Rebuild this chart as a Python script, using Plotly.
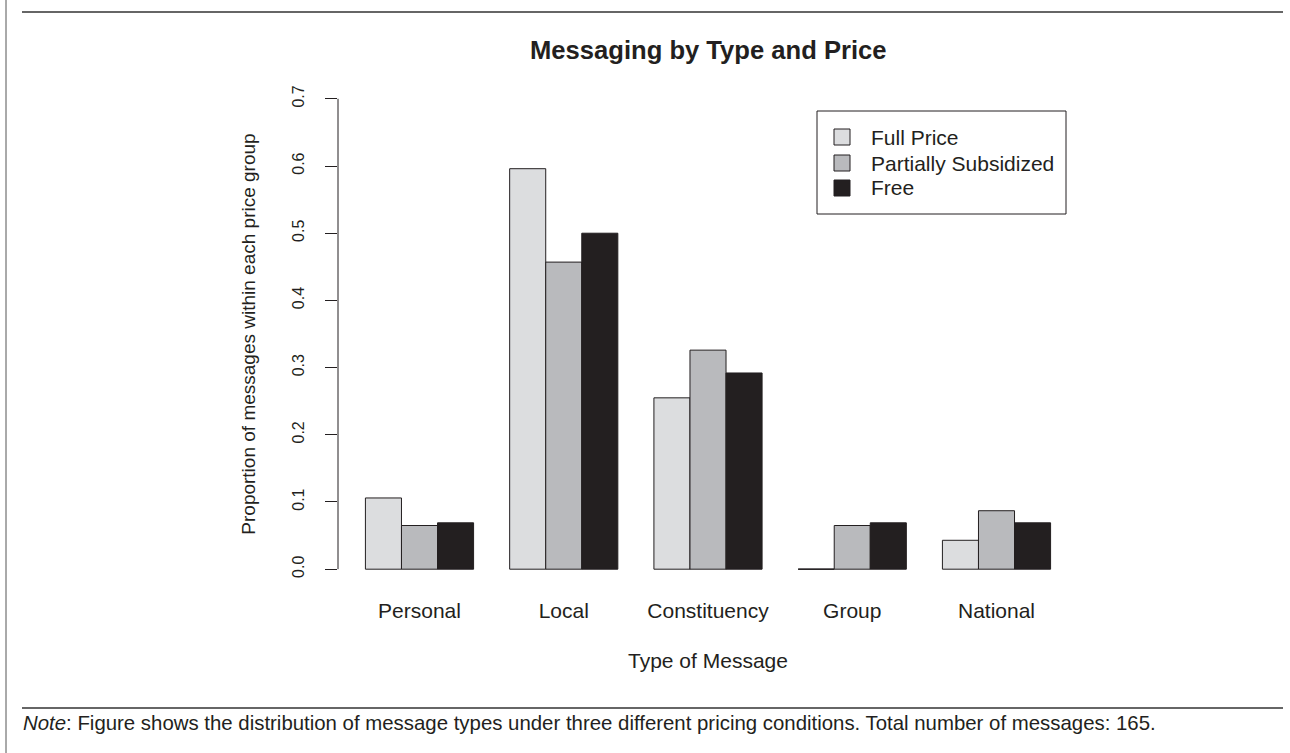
import plotly.graph_objects as go

categories = ["Personal", "Local", "Constituency", "Group", "National"]
full_price = [0.106, 0.596, 0.255, 0.0, 0.043]
partially_subsidized = [0.065, 0.457, 0.326, 0.065, 0.087]
free = [0.069, 0.500, 0.292, 0.069, 0.069]
series_names = ["Full Price", "Partially Subsidized", "Free"]
series_values = [full_price, partially_subsidized, free]
series_colors = ["#dcdddf", "#b9babd", "#231f20"]
y_ticks = [0.0, 0.1, 0.2, 0.3, 0.4, 0.5, 0.6, 0.7]
y_ticktext = ["0.0", "0.1", "0.2", "0.3", "0.4", "0.5", "0.6", "0.7"]

FONT = "Liberation Sans, Arial, Helvetica, sans-serif"
INK = "#231f20"
W, H = 1290, 753
PL, PR, PT, PB = 338, 1078, 80, 588
BARGAP = 0.25


def px2x(px):
    return (px - PL) / (PR - PL)


def px2y(py):
    return (PB - py) / (PB - PT)


fig = go.Figure()
for name, vals, col in zip(series_names, series_values, series_colors):
    fig.add_trace(go.Bar(
        x=categories, y=vals, name=name, showlegend=False,
        marker=dict(color=col, line=dict(color=INK, width=1)),
    ))

# zero-height bars: R still draws their outline as a line at 0
n = len(series_names)
bw = (1 - BARGAP) / n
for si, vals in enumerate(series_values):
    for ci, v in enumerate(vals):
        if v == 0:
            x0 = ci - (1 - BARGAP) / 2 + si * bw
            fig.add_shape(type="line", xref="x", yref="y", x0=x0, x1=x0 + bw,
                          y0=0, y1=0, line=dict(color=INK, width=1))

# y axis line spanning the tick range
fig.add_shape(type="line", xref="paper", yref="y", x0=0, x1=0,
              y0=y_ticks[0], y1=y_ticks[-1], line=dict(color=INK, width=1))

# page frame lines
fig.add_shape(type="line", xref="paper", yref="paper",
              x0=px2x(6), x1=px2x(6), y0=px2y(0), y1=px2y(H),
              line=dict(color="#555555", width=1))
for yy in (12, 708):
    fig.add_shape(type="line", xref="paper", yref="paper",
                  x0=px2x(22), x1=px2x(1283), y0=px2y(yy), y1=px2y(yy),
                  line=dict(color="#333333", width=1.5))

# legend (R-style box legend)
fig.add_shape(type="rect", xref="paper", yref="paper",
              x0=px2x(817), x1=px2x(1066), y0=px2y(111), y1=px2y(214),
              line=dict(color=INK, width=1), fillcolor="rgba(0,0,0,0)")
row_y = [137, 163, 188]
for name, col, ry in zip(series_names, series_colors, row_y):
    fig.add_shape(type="rect", xref="paper", yref="paper",
                  x0=px2x(834), x1=px2x(850), y0=px2y(ry - 8), y1=px2y(ry + 8),
                  line=dict(color=INK, width=1), fillcolor=col)
    fig.add_annotation(text=name, xref="paper", yref="paper", x=px2x(869), y=px2y(ry),
                       xanchor="left", yanchor="middle", showarrow=False,
                       font=dict(family=FONT, size=21, color=INK))

fig.add_annotation(text="<b>Messaging by Type and Price</b>", xref="paper", yref="paper",
                   x=px2x(708), y=px2y(50), xanchor="center", yanchor="middle", showarrow=False,
                   font=dict(family=FONT, size=25.6, color=INK))
fig.add_annotation(text="Type of Message", xref="paper", yref="paper",
                   x=px2x(708), y=px2y(660), xanchor="center", yanchor="middle", showarrow=False,
                   font=dict(family=FONT, size=21, color=INK))
fig.add_annotation(text="<i>Note</i>: Figure shows the distribution of message types under three different pricing conditions. Total number of messages: 165.",
                   xref="paper", yref="paper", x=px2x(21), xanchor="left",
                   y=px2y(723), yanchor="middle", showarrow=False,
                   font=dict(family=FONT, size=20.4, color=INK))

fig.update_layout(
    width=W, height=H,
    margin=dict(l=PL, r=W - PR, t=PT, b=H - PB, pad=0),
    paper_bgcolor="white", plot_bgcolor="white",
    barmode="group", bargap=BARGAP, bargroupgap=0,
    font=dict(family=FONT, color=INK),
    showlegend=False,
    xaxis=dict(type="category", range=[-0.565, 4.565], showline=False, showgrid=False,
               zeroline=False, ticks="", tickfont=dict(size=21, family=FONT, color=INK),
               ticklabelstandoff=8, fixedrange=True),
    yaxis=dict(range=[-0.028, 0.728], tickvals=y_ticks, ticktext=y_ticktext,
               showline=False, showgrid=False, zeroline=False, ticks="outside",
               ticklen=12, tickwidth=1, tickcolor=INK, tickangle=-90,
               tickfont=dict(size=16, family=FONT, color=INK), ticklabelstandoff=15,
               fixedrange=True,
               title=dict(text="Proportion of messages within each price group",
                          font=dict(size=19, family=FONT, color=INK), standoff=28)),
)

fig.write_html("out.html", config={"displayModeBar": False},
               post_script="document.body.style.margin='0px';")
